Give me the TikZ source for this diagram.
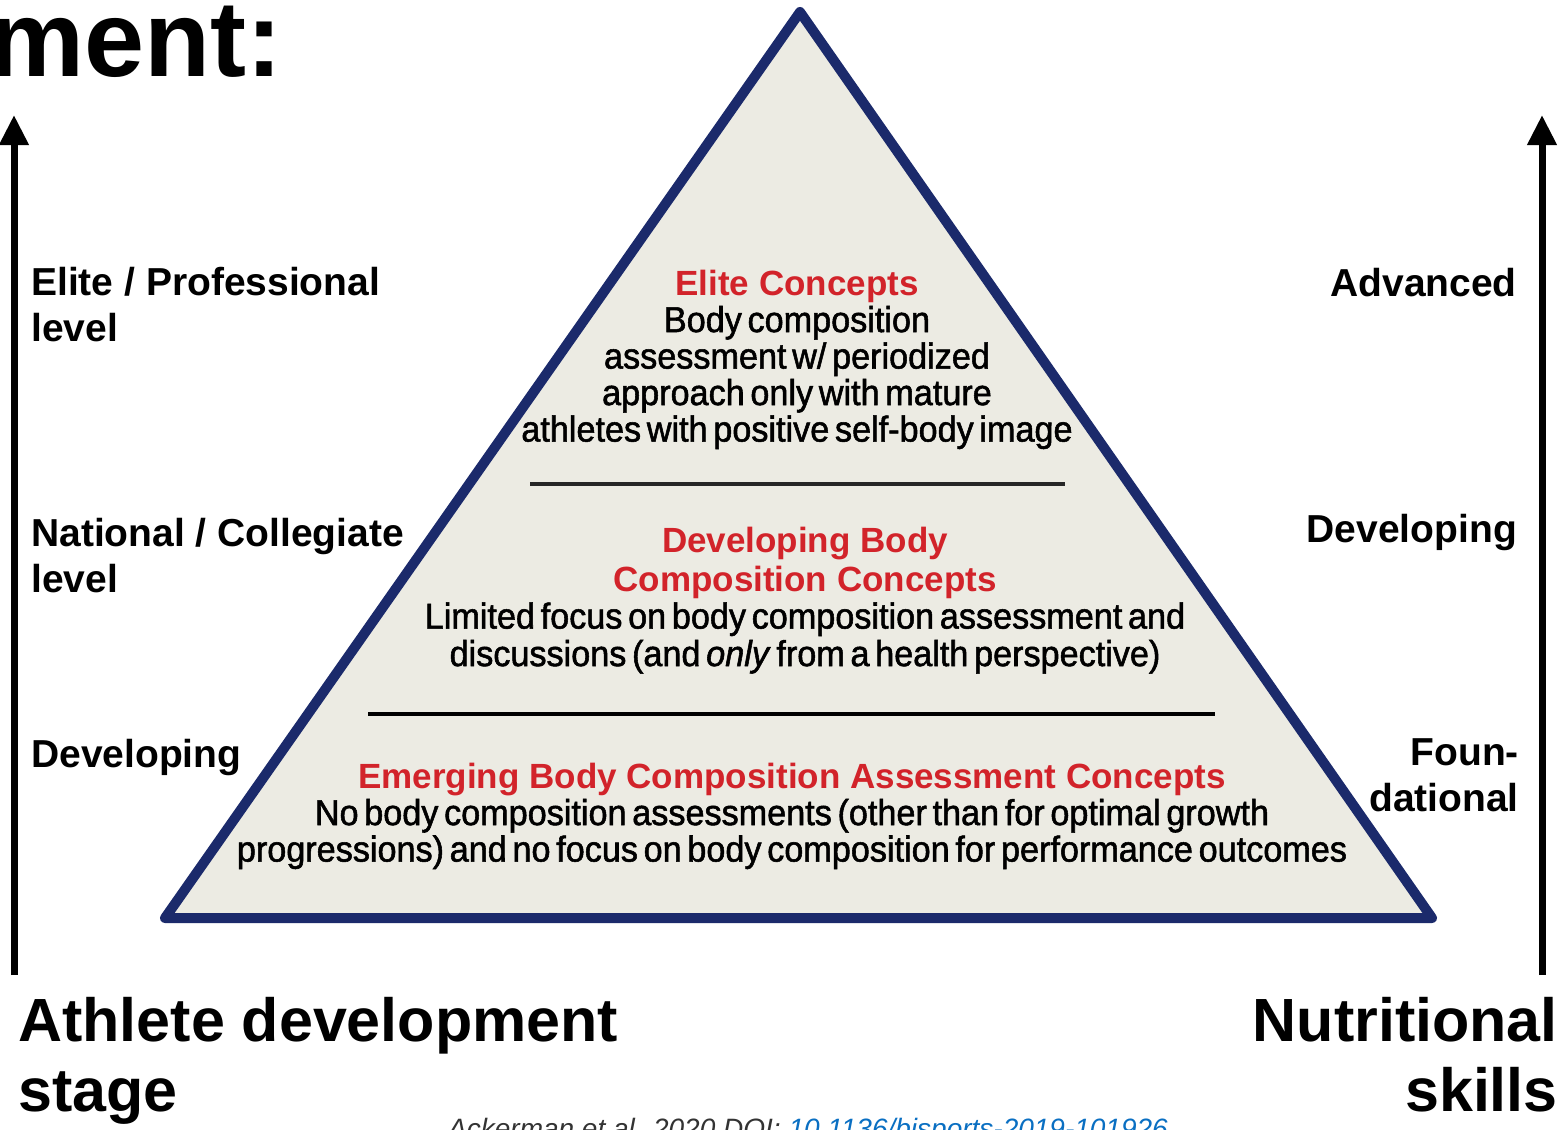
\documentclass[tikz,border=0pt]{standalone}
\usepackage{fontspec}
\setmainfont{Liberation Sans}
\newfontfamily\bodyfont[FakeStretch=0.95,FakeBold=1.5,WordSpace=0.6]{Liberation Sans}
\usetikzlibrary{arrows.meta, positioning}

\definecolor{navy}{HTML}{1B2A6B}
\definecolor{paper}{HTML}{ECEBE3}
\definecolor{conceptred}{HTML}{D2232A}
\definecolor{doiblue}{HTML}{0A6FC2}

\newcommand{\concept}[1]{{\rmfamily\color{conceptred}\fontsize{35}{38}\selectfont\bfseries #1}}

\tikzset{
  pyramid/.style={draw=navy, line width=10pt, line join=round, fill=paper}, % the big triangle
  rule/.style={line width=3.5pt, draw=black!85}, % lines between the tiers
  axis/.style={line width=7pt, -{Triangle[length=30pt,width=28pt]}}, % the two side arrows
  level/.style={font=\fontsize{39}{46}\selectfont\bfseries, inner sep=0pt}, % labels beside the arrows
  tier/.style={font=\bodyfont\fontsize{36}{36.5}\selectfont, inner sep=0pt, align=center, anchor=north}, % text inside the pyramid
  axistitle/.style={font=\fontsize{61}{70}\selectfont\bfseries, inner sep=0pt}, % names of the axes
}

\begin{document}
\begin{tikzpicture}[x=1pt, y=-1pt]
  \useasboundingbox (0,0) rectangle (1562,1129);

  \node[font=\fontsize{108}{116}\selectfont\bfseries, inner sep=0pt, anchor=base west] (heading) at (-12,77) {ment:};

  % pyramid and its tiers
  \draw[pyramid] (800,12) -- (1432,918) -- (165,918) -- cycle;
  \draw[rule] (530,484) -- (1065,484);
  \draw[rule, line width=4pt, draw=black] (368,714) -- (1215,714);

  \node[tier] (elite) at (797,270) {\concept{Elite Concepts}\\
    Body composition\\
    assessment w/ periodized\\
    approach only with mature\\
    athletes with positive self-body image};
  \node[tier] (developing) at (805,527) {\concept{Developing Body}\\[2pt]
    \concept{Composition Concepts}\\[1pt]
    Limited focus on body composition assessment and\\[1pt]
    discussions (and \textit{only} from a health perspective)};
  \node[tier] (emerging) at (792,763) {\concept{Emerging Body Composition Assessment Concepts}\\
    No body composition assessments (other than for optimal growth\\
    progressions) and no focus on body composition for performance outcomes};

  % left axis: athlete development stage
  \coordinate (stageBottom) at (14,975);
  \coordinate (stageTop) at (14,115);
  \draw[axis] (stageBottom) -- (stageTop);
  \node[level, anchor=north west, align=left] (pro) at (31,267) {Elite / Professional\\level};
  \node[level, anchor=north west, align=left] (national) at (31,518) {National / Collegiate\\level};
  \node[level, anchor=north west] (devStage) at (31,739) {Developing};
  \node[axistitle, anchor=north west, align=left] (stage) at (18,997) {Athlete development\\stage};

  % right axis: nutritional skills
  \coordinate (skillBottom) at (1542,975);
  \coordinate (skillTop) at (1542,115);
  \draw[axis] (skillBottom) -- (skillTop);
  \node[level, anchor=north east] (advanced) at (1517,268) {Advanced};
  \node[level, anchor=north east] (devSkill) at (1517,514) {Developing};
  \node[level, anchor=north east, align=right] (foundational) at (1519,738) {Foun-\\dational};
  \node[axistitle, anchor=north east, align=right] (skills) at (1558,997) {Nutritional\\skills};

  \node[font=\fontsize{28}{30}\selectfont\itshape, inner sep=0pt, anchor=base west] (source) at (448,1138)
    {{\color{black!80}Ackerman et al. 2020 DOI: }{\color{doiblue}10.1136/bjsports-2019-101926}};
\end{tikzpicture}
\end{document}
